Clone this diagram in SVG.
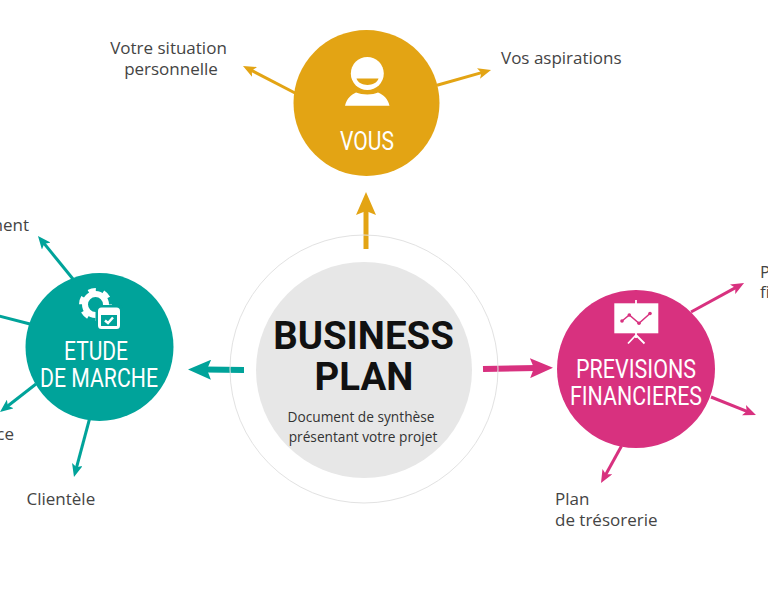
<svg xmlns="http://www.w3.org/2000/svg" width="768" height="597" viewBox="0 0 768 597">
<style>
.lbl{font-family:"Open Sans","Liberation Sans",sans-serif;font-size:17px;fill:#444}
.sub{font-family:"Open Sans","Liberation Sans",sans-serif;font-size:13.700px;fill:#333}
.ttl{font-family:Roboto,"Liberation Sans",sans-serif;font-size:26px;fill:#fff}
.big{font-family:Roboto,"Liberation Sans",sans-serif;font-size:38.400px;font-weight:700;fill:#111}
.thin{fill:none;stroke-width:3}
.thick{fill:none}
.y{stroke:#E3A414}.t{stroke:#00A39A}.p{stroke:#D8317F}
</style>
<defs>
<marker id="ty" markerUnits="userSpaceOnUse" markerWidth="13" markerHeight="11" refX="6" refY="5.5" orient="auto"><path d="M0 0L13 5.5L0 11L3 5.5z" fill="#E3A414"/></marker>
<marker id="tt" markerUnits="userSpaceOnUse" markerWidth="13" markerHeight="11" refX="6" refY="5.5" orient="auto"><path d="M0 0L13 5.5L0 11L3 5.5z" fill="#00A39A"/></marker>
<marker id="tp" markerUnits="userSpaceOnUse" markerWidth="13" markerHeight="11" refX="6" refY="5.5" orient="auto"><path d="M0 0L13 5.5L0 11L3 5.5z" fill="#D8317F"/></marker>
<marker id="by" markerUnits="userSpaceOnUse" markerWidth="23" markerHeight="20" refX="6" refY="10" orient="auto"><path d="M0 0L23 10L0 20L4 10z" fill="#E3A414"/></marker>
<marker id="bt" markerUnits="userSpaceOnUse" markerWidth="23" markerHeight="20" refX="6" refY="10" orient="auto"><path d="M0 0L23 10L0 20L4 10z" fill="#00A39A"/></marker>
<marker id="bp" markerUnits="userSpaceOnUse" markerWidth="23" markerHeight="20" refX="6" refY="10" orient="auto"><path d="M0 0L23 10L0 20L4 10z" fill="#D8317F"/></marker>
</defs>
<rect width="768" height="597" fill="#fff"/>
<g id="connectors">
<path class="thick y" stroke-width="5" d="M366 249V209" marker-end="url(#by)"/>
<path class="thick t" stroke-width="6" d="M244 370L205 369.6" marker-end="url(#bt)"/>
<path class="thick p" stroke-width="6" d="M483 369L536 368" marker-end="url(#bp)"/>
<path class="thin y" d="M296 93.5L249.2 69.2" marker-end="url(#ty)"/>
<path class="thin y" d="M437 85.3L484.3 71.9" marker-end="url(#ty)"/>
<path class="thin t" d="M73 279L42.4 241.4" marker-end="url(#tt)"/>
<path class="thin t" d="M30 324L-5 315"/>
<path class="thin t" d="M36 384L5.5 407.7" marker-end="url(#tt)"/>
<path class="thin t" d="M89.500 419L75.800 470.200" marker-end="url(#tt)"/>
<path class="thin p" d="M691 312L737.900 286.400" marker-end="url(#tp)"/>
<path class="thin p" d="M711 397L749.500 412.400" marker-end="url(#tp)"/>
<path class="thin p" d="M621.500 446L604.400 476.900" marker-end="url(#tp)"/>
</g>
<g id="node-business-plan">
<circle cx="364" cy="369" r="134" fill="none" stroke="#E2E2E2" stroke-width="1"/>
<circle cx="364" cy="370" r="108" fill="#E7E7E7"/>
<text class="big" x="363.500" y="349" text-anchor="middle">BUSINESS</text>
<text class="big" x="364" y="389.500" text-anchor="middle">PLAN</text>
<text class="sub" x="361" y="422" text-anchor="middle">Document de synthèse</text>
<text class="sub" x="363" y="442" text-anchor="middle">présentant votre projet</text>
</g>
<g id="node-vous">
<circle cx="366.500" cy="103" r="73" fill="#E3A414"/>
<circle cx="367.300" cy="73.500" r="16.500" fill="#fff"/>
<path d="M356.500 78.500H378.500C376 87 359 87 356.500 78.500z" fill="#E3A414"/>
<path d="M345 105.700C347 98 351 95 356 92.500C362 95 373 95 378 92.500C384 95 388 99 389.500 105.700z" fill="#fff"/>
<text class="ttl" x="340" y="150" textLength="54" lengthAdjust="spacingAndGlyphs">VOUS</text>
</g>
<g id="node-etude-de-marche">
<circle cx="99.500" cy="347" r="74" fill="#00A39A"/>
<circle cx="95.500" cy="304.500" r="10.500" fill="none" stroke="#fff" stroke-width="6"/>
<circle cx="95.500" cy="304.500" r="14.500" fill="none" stroke="#fff" stroke-width="4" stroke-dasharray="7.500 7.680"/>
<rect x="95.500" y="305" width="27" height="27" rx="3" fill="#00A39A"/>
<rect x="99.500" y="309" width="19" height="18.500" rx="2" fill="none" stroke="#fff" stroke-width="3"/>
<rect x="99.500" y="309" width="19" height="6" fill="#fff"/>
<path d="M105 320.500L108 323L113 317.500" fill="none" stroke="#fff" stroke-width="2.500"/>
<text class="ttl" x="64" y="360" textLength="64" lengthAdjust="spacingAndGlyphs">ETUDE</text>
<text class="ttl" x="40" y="387" textLength="118" lengthAdjust="spacingAndGlyphs">DE MARCHE</text>
</g>
<g id="node-previsions">
<circle cx="636" cy="369" r="79" fill="#D8317F"/>
<rect x="614.300" y="303.300" width="44" height="30" fill="#fff"/>
<path d="M636 300V338M636 335L628 343.500M636 335L644.500 343.500" fill="none" stroke="#fff" stroke-width="1.800"/>
<path d="M622 321L629.300 315L639 323.300L650 313.500" fill="none" stroke="#D8317F" stroke-width="1.500"/>
<g fill="#D8317F"><circle cx="622" cy="321" r="1.800"/><circle cx="629.300" cy="315" r="1.800"/><circle cx="639" cy="323.300" r="1.800"/><circle cx="650" cy="313.500" r="1.800"/></g>
<text class="ttl" x="576" y="378" textLength="120" lengthAdjust="spacingAndGlyphs">PREVISIONS</text>
<text class="ttl" x="570" y="405" textLength="132" lengthAdjust="spacingAndGlyphs">FINANCIERES</text>
</g>
<g id="labels">
<text class="lbl" x="168.500" y="54" text-anchor="middle">Votre situation</text>
<text class="lbl" x="171" y="75" text-anchor="middle">personnelle</text>
<text class="lbl" x="501" y="64">Vos aspirations</text>
<text class="lbl" x="29" y="231" text-anchor="end">ment</text>
<text class="lbl" x="14" y="440" text-anchor="end">ce</text>
<text class="lbl" x="26.500" y="505">Clientèle</text>
<text class="lbl" x="760" y="278">P</text>
<text class="lbl" x="760" y="298">fi</text>
<text class="lbl" x="555" y="505">Plan</text>
<text class="lbl" x="555" y="526">de trésorerie</text>
</g>
</svg>
